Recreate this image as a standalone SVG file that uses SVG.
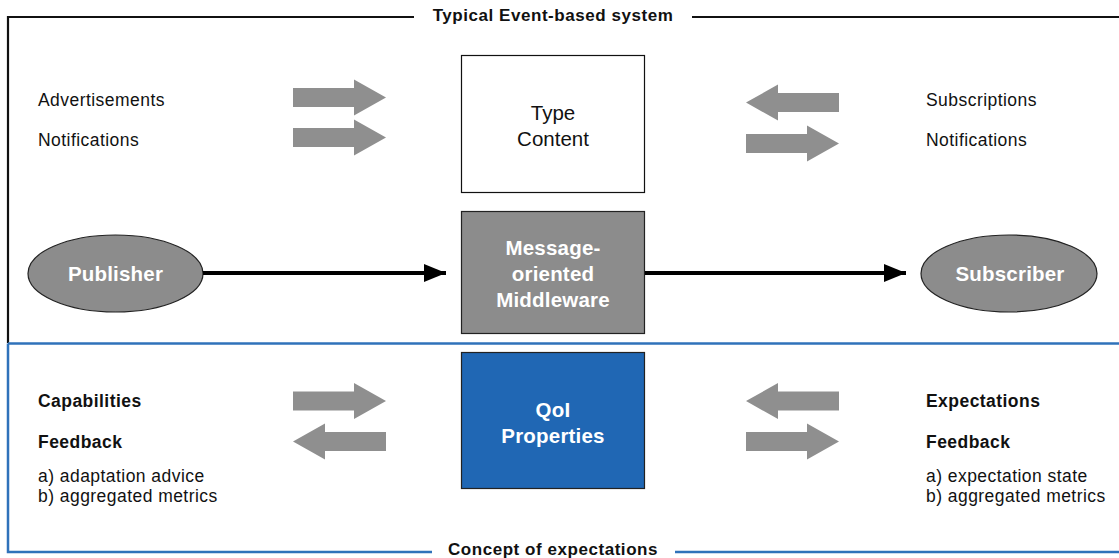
<svg xmlns="http://www.w3.org/2000/svg" xmlns:xlink="http://www.w3.org/1999/xlink" width="1119" height="558" viewBox="0 0 1119 558">
<style>
text{font-family:"Liberation Sans",Arial,sans-serif;fill:#111}
.lbl{font-size:17.5px;letter-spacing:0.45px}
.b{font-weight:bold}
.ttl{font-size:17px;font-weight:bold;letter-spacing:0.55px;text-anchor:middle}
.w{fill:#fff;font-weight:bold;font-size:20.5px;letter-spacing:0.2px;text-anchor:middle}
.tc{font-size:20.5px;text-anchor:middle}
.frameK{fill:none;stroke:#111;stroke-width:2.2}
.frameB{fill:none;stroke:#2f72ba;stroke-width:2.5}
.barrow{fill:#8f8f8f}
.conn{stroke:#000;stroke-width:4;fill:none}
.gnode{fill:#8c8c8c;stroke:#222;stroke-width:1.2}
</style>
<defs>
<marker id="ah" markerWidth="22" markerHeight="18" refX="22" refY="9" orient="auto" markerUnits="userSpaceOnUse">
<path d="M0,0 L22,9 L0,18 Z" fill="#000"/>
</marker>
<path id="bR" d="M0,-9.5 H61 V-18 L93,0 L61,18 V9.5 H0 Z"/>
<path id="bL" d="M93,-9.5 H32 V-18 L0,0 L32,18 V9.5 H93 Z"/>
</defs>
<rect width="1119" height="558" fill="#fff"/>

<g id="frame-event">
<path class="frameK" d="M414,17 H8 V343"/>
<path class="frameK" d="M692,17 H1119"/>
<text class="ttl" x="553" y="21">Typical Event-based system</text>
</g>
<g id="frame-expectations">
<path class="frameB" d="M8,343.5 H1119"/>
<path class="frameB" d="M8,343.5 V552 H432"/>
<path class="frameB" d="M675,552 H1119"/>
<text class="ttl" x="553" y="555">Concept of expectations</text>
</g>

<g id="pub-labels">
<text class="lbl" x="38" y="106">Advertisements</text>
<text class="lbl" x="38" y="146">Notifications</text>
</g>
<g id="sub-labels">
<text class="lbl" x="926" y="106">Subscriptions</text>
<text class="lbl" x="926" y="146">Notifications</text>
</g>

<g id="type-content">
<rect x="461.5" y="55.5" width="183" height="137" fill="#fff" stroke="#111" stroke-width="1.2"/>
<text class="tc" x="553" y="120">Type</text>
<text class="tc" x="553" y="146">Content</text>
</g>

<g id="middleware">
<rect class="gnode" x="461.5" y="211.5" width="183" height="122"/>
<text class="w" x="553" y="255">Message-</text>
<text class="w" x="553" y="281">oriented</text>
<text class="w" x="553" y="307">Middleware</text>
</g>

<g id="publisher">
<ellipse class="gnode" cx="115.5" cy="273.5" rx="87.5" ry="38.5"/>
<text class="w" x="115.5" y="280.5">Publisher</text>
</g>

<g id="subscriber">
<ellipse class="gnode" cx="1009" cy="273.5" rx="88" ry="38.5"/>
<text class="w" x="1010" y="280.5">Subscriber</text>
</g>

<g id="qoi">
<rect x="461.5" y="352.5" width="183" height="136" fill="#2067b4" stroke="#222" stroke-width="1.2"/>
<text class="w" x="553" y="417">QoI</text>
<text class="w" x="553" y="443">Properties</text>
</g>

<g id="cap-labels">
<text class="lbl b" x="38" y="407">Capabilities</text>
<text class="lbl b" x="38" y="448">Feedback</text>
<text class="lbl" x="38" y="482">a) adaptation advice</text>
<text class="lbl" x="38" y="502">b) aggregated metrics</text>
</g>
<g id="exp-labels">
<text class="lbl b" x="926" y="407">Expectations</text>
<text class="lbl b" x="926" y="448">Feedback</text>
<text class="lbl" x="926" y="482">a) expectation state</text>
<text class="lbl" x="926" y="502">b) aggregated metrics</text>
</g>

<g id="connectors">
<line class="conn" x1="203" y1="273" x2="446" y2="273" marker-end="url(#ah)"/>
<line class="conn" x1="645" y1="273" x2="906" y2="273" marker-end="url(#ah)"/>
<g class="barrow">
<use href="#bR" xlink:href="#bR" x="293" y="97.5"/>
<use href="#bR" xlink:href="#bR" x="293" y="137.5"/>
<use href="#bL" xlink:href="#bL" x="746" y="102.5"/>
<use href="#bR" xlink:href="#bR" x="746" y="143.5"/>
<use href="#bR" xlink:href="#bR" x="293" y="401"/>
<use href="#bL" xlink:href="#bL" x="293" y="441.5"/>
<use href="#bL" xlink:href="#bL" x="746" y="401"/>
<use href="#bR" xlink:href="#bR" x="746" y="441.5"/>
</g>
</g>
</svg>
